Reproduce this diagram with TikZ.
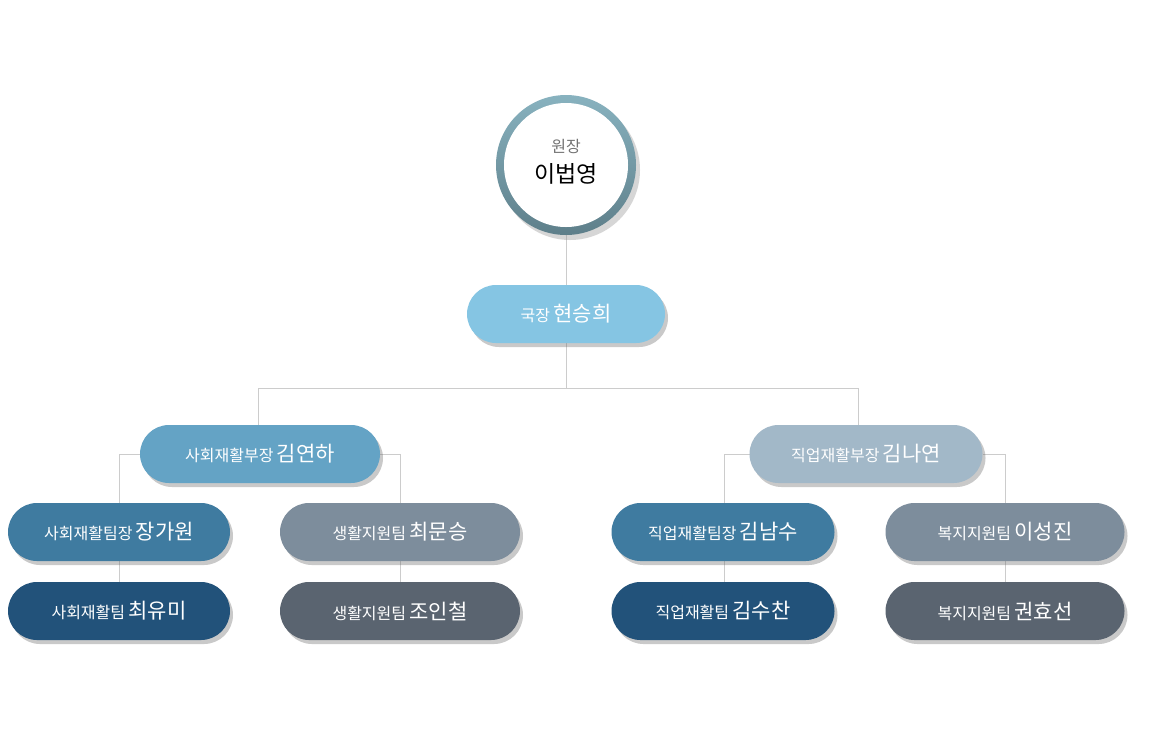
\documentclass[tikz,border=0pt]{standalone}
\usepackage{fontspec}
\setmainfont{Noto Sans CJK KR}
\usetikzlibrary{shadows}
\definecolor{cTop}{HTML}{85C5E3}
\definecolor{cMid}{HTML}{64A3C5}
\definecolor{cMidR}{HTML}{A2B8C8}
\definecolor{cBlue}{HTML}{3F7BA0}
\definecolor{cNavy}{HTML}{22527A}
\definecolor{cGray}{HTML}{7D8D9C}
\definecolor{cDark}{HTML}{5A6470}
\definecolor{cRing}{HTML}{88B2BF}
\definecolor{cRingD}{HTML}{5E7F8A}
\definecolor{cLine}{HTML}{CCCCCC}
\tikzset{
 pill/.style={rounded corners=29pt, minimum height=58pt, text=white, inner sep=0pt,
   drop shadow={shadow xshift=3pt, shadow yshift=-4pt, opacity=0.35, fill=black!60}},
 lk/.style={draw=cLine, line width=0.8pt},
 tt/.style={font=\fontsize{16}{18}\selectfont},
 nm/.style={font=\fontsize{21}{24}\selectfont},
}
\newcommand{\lbl}[2]{{\fontsize{16}{18}\selectfont #1}\,\,{\fontsize{21}{24}\selectfont #2}}
\begin{document}
\begin{tikzpicture}[x=1pt,y=-1pt]
\useasboundingbox[fill=white] (0,0) rectangle (1153,748);
% connectors (behind)
\coordinate (j) at (566,388);
\draw[lk] (566,235) -- (566,388);
\draw[lk] (258,425) |- (858,388) -- (858,425);
\draw[lk] (140,454) -| (119,503);
\draw[lk] (380,454) -| (400,503);
\draw[lk] (750,454) -| (724,503);
\draw[lk] (983,454) -| (1005,503);
\foreach \x in {119,400,724,1005} \draw[lk] (\x,561) -- (\x,582);
% top circle
\fill[black!40, opacity=0.4] (570,170) circle (70);
\shade[left color=cRing, right color=cRingD, shading angle=0] (566,165) circle (70);
\node[circle, fill=white, minimum size=124pt, inner sep=0pt] (top) at (566,165) {};
\node[text=black!55, font=\fontsize{16}{18}\selectfont] (t1) at (566,146) {원장};
\node[text=black, font=\fontsize{23}{26}\selectfont] (t2) at (566,174) {이법영};
% pills
\node[pill, fill=cTop, minimum width=198pt] (gj) at (566,314) {\lbl{국장}{현승희}};
\node[pill, fill=cMid, minimum width=240pt] (m1) at (260,454) {\lbl{사회재활부장}{김연하}};
\node[pill, fill=cMidR, minimum width=233pt] (m2) at (866,454) {\lbl{직업재활부장}{김나연}};
\node[pill, fill=cBlue, minimum width=222pt] (a1) at (119,532) {\lbl{사회재활팀장}{장가원}};
\node[pill, fill=cNavy, minimum width=222pt] (a2) at (119,611) {\lbl{사회재활팀}{최유미}};
\node[pill, fill=cGray, minimum width=240pt] (b1) at (400,532) {\lbl{생활지원팀}{최문승}};
\node[pill, fill=cDark, minimum width=240pt] (b2) at (400,611) {\lbl{생활지원팀}{조인철}};
\node[pill, fill=cBlue, minimum width=223pt] (c1) at (723,532) {\lbl{직업재활팀장}{김남수}};
\node[pill, fill=cNavy, minimum width=223pt] (c2) at (723,611) {\lbl{직업재활팀}{김수찬}};
\node[pill, fill=cGray, minimum width=239pt] (d1) at (1005,532) {\lbl{복지지원팀}{이성진}};
\node[pill, fill=cDark, minimum width=239pt] (d2) at (1005,611) {\lbl{복지지원팀}{권효선}};
\end{tikzpicture}
\end{document}
